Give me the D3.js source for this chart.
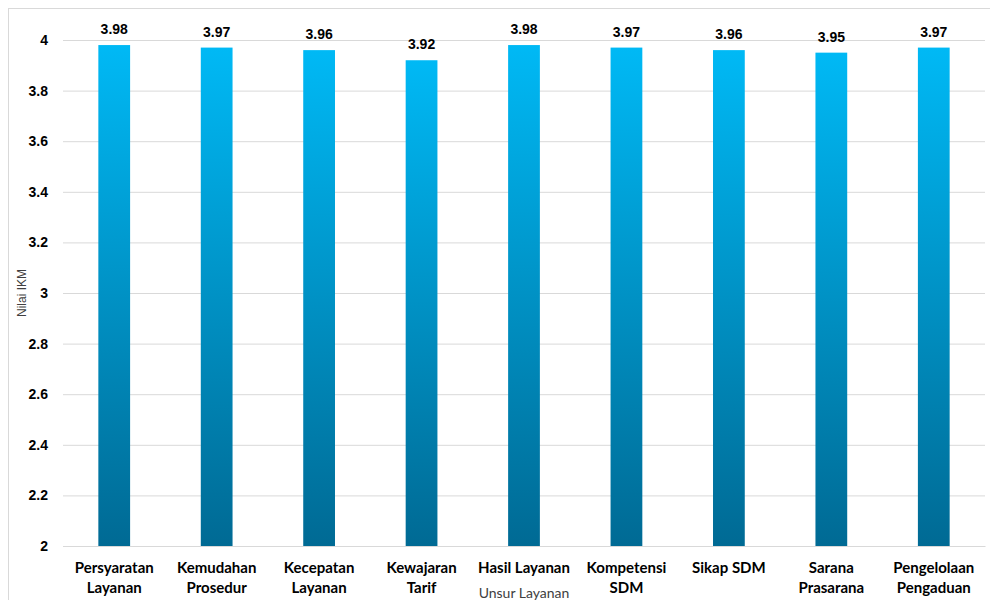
<!DOCTYPE html>
<html>
<head>
<meta charset="utf-8">
<script src="https://cdn.jsdelivr.net/npm/d3@7"></script>
<style>
  html, body { margin: 0; padding: 0; background: #fff; }
  svg { display: block; }
</style>
</head>
<body>
<svg id="chart" width="990" height="600"></svg>
<script>
// Indeks Kepuasan Masyarakat per unsur layanan
const categories = [
  ["Persyaratan", "Layanan"],
  ["Kemudahan", "Prosedur"],
  ["Kecepatan", "Layanan"],
  ["Kewajaran", "Tarif"],
  ["Hasil Layanan"],
  ["Kompetensi", "SDM"],
  ["Sikap SDM"],
  ["Sarana", "Prasarana"],
  ["Pengelolaan", "Pengaduan"]
];
const values = [3.98, 3.97, 3.96, 3.92, 3.98, 3.97, 3.96, 3.95, 3.97];
const yTicks = [2, 2.2, 2.4, 2.6, 2.8, 3, 3.2, 3.4, 3.6, 3.8, 4];
const yTitle = "Nilai IKM";
const xTitle = "Unsur Layanan";

const svg = d3.select("#chart");
const W = 990, H = 600;
const m = { left: 63, right: 5, top: 40, bottom: 54 };

// chart frame
svg.append("rect")
  .attr("x", 8.5).attr("y", 8.5)
  .attr("width", W - 6).attr("height", H)
  .attr("fill", "none").attr("stroke", "#d9d9d9");

const x = d3.scaleBand()
  .domain(d3.range(categories.length))
  .range([m.left, W - m.right])
  .paddingInner(0.69).paddingOuter(0.345);

const y = d3.scaleLinear().domain([2, 4]).range([H - m.bottom, m.top]);

// per-bar vertical gradient
const defs = svg.append("defs");
const grad = defs.append("linearGradient")
  .attr("id", "barGrad").attr("x1", 0).attr("y1", 0).attr("x2", 0).attr("y2", 1);
grad.append("stop").attr("offset", "0%").attr("stop-color", "#00B9F5");
grad.append("stop").attr("offset", "100%").attr("stop-color", "#006A94");

// grid lines
const yAxis = d3.axisLeft(y).tickValues(yTicks)
  .tickSize(-(W - m.right - m.left))
  .tickFormat(d => d3.format("")(+d.toFixed(1)));
const gy = svg.append("g").attr("transform", `translate(${m.left},0)`).call(yAxis);
gy.select(".domain").remove();
gy.selectAll(".tick line").attr("stroke", "#d9d9d9").attr("stroke-width", 1);
gy.selectAll(".tick text")
  .attr("x", -15)
  .attr("fill", "#000")
  .style("font-family", "'Liberation Sans', Arial, sans-serif")
  .style("font-weight", "700")
  .style("font-size", "14px");

// bars
svg.append("g").selectAll("rect")
  .data(values)
  .join("rect")
  .attr("x", (d, i) => x(i))
  .attr("y", d => y(d))
  .attr("width", x.bandwidth())
  .attr("height", d => y(2) - y(d))
  .attr("fill", "url(#barGrad)");

// value labels
svg.append("g").selectAll("text")
  .data(values)
  .join("text")
  .attr("x", (d, i) => x(i) + x.bandwidth() / 2)
  .attr("y", d => y(d) - 11)
  .attr("text-anchor", "middle")
  .style("font-family", "'Liberation Sans', Arial, sans-serif")
  .style("font-weight", "700")
  .style("font-size", "14px")
  .attr("fill", "#000")
  .text(d => d.toFixed(2));

// category labels
const xAxis = d3.axisBottom(x).tickSize(0).tickFormat("");
const gx = svg.append("g").attr("transform", `translate(0,${y(2)})`).call(xAxis);
gx.select(".domain").attr("stroke", "#d9d9d9");
gx.selectAll(".tick").each(function (d) {
  const t = d3.select(this).append("text")
    .attr("text-anchor", "middle")
    .attr("fill", "#000")
    .style("font-family", "Lato, sans-serif")
    .style("font-weight", "700")
    .style("font-size", "15px");
  categories[d].forEach((line, k) => {
    t.append("tspan").attr("x", 0).attr("y", 27 + k * 20).text(line);
  });
});

// axis titles
svg.append("text")
  .attr("transform", `translate(26,${(y(2) + y(4)) / 2}) rotate(-90)`)
  .attr("text-anchor", "middle")
  .attr("fill", "#404040")
  .style("font-family", "'Liberation Sans', Arial, sans-serif")
  .style("font-size", "12px")
  .text(yTitle);

svg.append("text")
  .attr("x", (m.left + W - m.right) / 2)
  .attr("y", 598)
  .attr("text-anchor", "middle")
  .attr("fill", "#404040")
  .style("font-family", "Lato, sans-serif")
  .style("font-size", "14px")
  .text(xTitle);
</script>
</body>
</html>
